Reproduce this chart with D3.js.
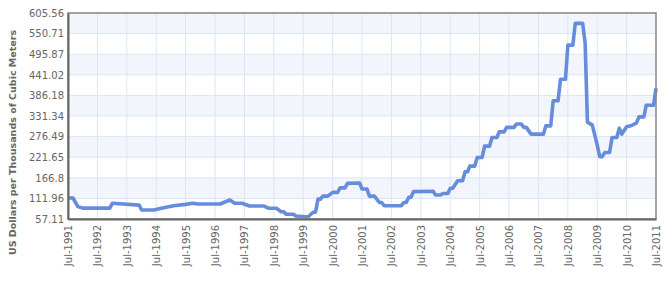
<!DOCTYPE html>
<html>
<head>
<meta charset="utf-8">
<script src="https://cdn.jsdelivr.net/npm/d3@7"></script>
<style>
  body { margin: 0; background: #fff; }
  svg text { font-family: "DejaVu Sans", Verdana, sans-serif; fill: #666; }
</style>
</head>
<body>
<svg id="chart" width="668" height="281"></svg>
<script>
// corner points of the monthly price line
const dates = ["1991-07","1991-09","1991-11","1992-01","1992-12","1993-01","1993-12","1994-01","1994-06","1994-09",
  "1995-02","1995-07","1995-10","1995-12","1996-09","1997-01","1997-03","1997-06","1997-09","1998-03",
  "1998-05","1998-08","1998-10","1998-11","1998-12","1999-03","1999-04","1999-08","1999-09","1999-11",
  "1999-12","2000-01","2000-02","2000-03","2000-05","2000-07","2000-09","2000-10","2000-12","2001-01",
  "2001-06","2001-07","2001-09","2001-10","2001-12","2002-02","2002-03","2002-04","2002-11","2002-12",
  "2003-01","2003-02","2003-03","2003-04","2003-12","2004-01","2004-03","2004-04","2004-06","2004-07",
  "2004-08","2004-10","2004-12","2005-01","2005-02","2005-03","2005-05","2005-06","2005-08","2005-09",
  "2005-11","2005-12","2006-02","2006-03","2006-05","2006-06","2006-09","2006-10","2006-12","2007-01",
  "2007-02","2007-04","2007-09","2007-10","2007-12","2008-01","2008-03","2008-04","2008-06","2008-07",
  "2008-09","2008-10","2009-01","2009-02","2009-03","2009-05","2009-07","2009-08","2009-09","2009-10",
  "2009-12","2010-01","2010-03","2010-04","2010-05","2010-07","2010-09","2010-11","2010-12","2011-02",
  "2011-03","2011-06","2011-07"];
const prices = [113,113,90,86,86,99,94,81,81,85.6,
  92.5,96,99,97,97,107.7,99,99,91.7,91.7,
  85.6,85.6,76.5,76.5,69.6,69.6,65,63,63,75,
  75,110,110,118,118,128,128,140,140,152,
  153,137,137,118,118,101,101,92.5,92.5,101,
  101,115,115,130,131,121,121,125,125,139,
  139,159,159,183,183,198,198,221,221,251,
  251,274,274,289,289,301,301,310,310,301,
  301,283,283,305,305,372,372,429,429,520,
  520,578,578,525,315,307,254,223,223,234,
  234,274,274,299,283,303,306,313,329,329,
  360,360,405];

const yTicks = [57.11,111.96,166.8,221.65,276.49,331.34,386.18,441.02,495.87,550.71,605.56];
const xTickYears = d3.range(1991, 2012);
const yTitle = "US Dollars per Thousands of Cubic Meters";

const parse = d3.timeParse("%Y-%m");
const data = dates.map((d, i) => ({date: parse(d), value: prices[i]}));

const margin = {left: 68, right: 12, top: 13, bottom: 62};
const W = 668, H = 281;
const svg = d3.select("#chart");

const x = d3.scaleTime()
  .domain([new Date(1991, 6, 1), new Date(2011, 6, 1)])
  .range([margin.left, W - margin.right]);
const y = d3.scaleLinear()
  .domain([yTicks[0], yTicks[yTicks.length - 1]])
  .range([H - margin.bottom, margin.top]);

// alternating bands
const bands = d3.pairs(yTicks);
svg.append("g").selectAll("rect")
  .data(bands)
  .enter().append("rect")
  .attr("x", margin.left)
  .attr("width", W - margin.right - margin.left)
  .attr("y", d => y(d[1]))
  .attr("height", d => y(d[0]) - y(d[1]))
  .attr("fill", (d, i) => i % 2 ? "#f3f5fc" : "#ffffff");

// grid
const xTicks = xTickYears.map(yr => new Date(yr, 6, 1));
svg.append("g").selectAll("line")
  .data(xTicks)
  .enter().append("line")
  .attr("x1", d => x(d)).attr("x2", d => x(d))
  .attr("y1", margin.top).attr("y2", H - margin.bottom)
  .attr("stroke", "#dbe5f8").attr("stroke-width", 1);
svg.append("g").selectAll("line")
  .data(yTicks)
  .enter().append("line")
  .attr("x1", margin.left).attr("x2", W - margin.right)
  .attr("y1", d => y(d)).attr("y2", d => y(d))
  .attr("stroke", "#dbe5f8").attr("stroke-width", 1);

// line
const line = d3.line()
  .x(d => x(d.date))
  .y(d => y(d.value));
svg.append("path")
  .datum(data)
  .attr("d", line)
  .attr("fill", "none")
  .attr("stroke", "#658ddc")
  .attr("stroke-width", 3.6)
  .attr("stroke-linejoin", "round");

// frame
svg.append("rect")
  .attr("x", margin.left).attr("y", margin.top)
  .attr("width", W - margin.right - margin.left)
  .attr("height", H - margin.bottom - margin.top)
  .attr("fill", "none").attr("stroke", "#888").attr("stroke-width", 1.5);

// axes
const yAxis = svg.append("g")
  .attr("transform", `translate(${margin.left},0)`)
  .call(d3.axisLeft(y).tickValues(yTicks).tickSize(0).tickPadding(4).tickFormat(d => d));
yAxis.select(".domain").attr("stroke", "#666").attr("stroke-width", 2);
yAxis.selectAll("text").attr("font-size", 10).attr("fill", "#666");

const xAxis = svg.append("g")
  .attr("transform", `translate(0,${H - margin.bottom})`)
  .call(d3.axisBottom(x).tickValues(xTicks).tickSize(0).tickFormat(d3.timeFormat("%b-%Y")));
xAxis.select(".domain").attr("stroke", "#666").attr("stroke-width", 2);
xAxis.selectAll("text")
  .attr("font-size", 10).attr("fill", "#666")
  .attr("transform", "rotate(-90)")
  .attr("text-anchor", "end")
  .attr("x", -6).attr("y", 0).attr("dy", "0.35em");

// y title
svg.append("text")
  .attr("transform", `translate(16,${H / 2 + 2}) rotate(-90)`)
  .attr("text-anchor", "middle")
  .attr("font-size", 9.5)
  .attr("font-weight", "bold")
  .attr("fill", "#666")
  .text(yTitle);
</script>
</body>
</html>
